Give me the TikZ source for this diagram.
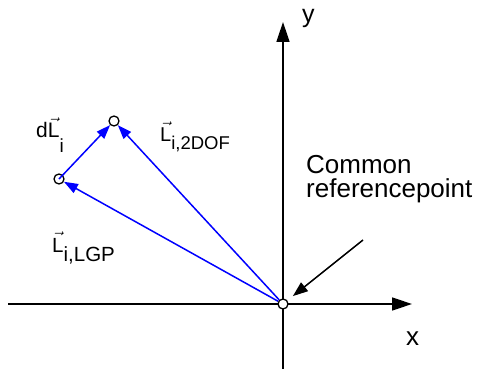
\documentclass[tikz,border=0pt]{standalone}
\usepackage{fontspec}
\setmainfont{Liberation Sans}
\usepackage{amsmath}
\usetikzlibrary{arrows.meta}
\newcommand{\vL}{$\vec{\text{L}}$}
\begin{document}
\begin{tikzpicture}[x=1pt,y=-1pt,
 axis/.style={line width=1.5pt, -{Triangle[length=20pt,width=13pt]}},
 vecarrow/.style={blue, line width=1.5pt, -{Triangle[length=14pt,width=10pt]}},
 annarrow/.style={line width=1.5pt, -{Triangle[length=15pt,width=11pt]}},
 ptc/.style={circle, draw=black, line width=1.3pt, inner sep=0pt, minimum size=10pt},
 lbl/.style={inner sep=0pt, anchor=base west}]
\useasboundingbox (0,0) rectangle (477,369);
\coordinate (xs) at (8,304);
\coordinate (xe) at (412,304);
\coordinate (ys) at (283,369);
\coordinate (ye) at (283,22);
\draw[axis] (xs) -- (xe);
\draw[axis] (ys) -- (ye);
\node[ptc, fill=white] (O) at (283,304) {};
\node[ptc] (A) at (59,179) {};
\node[ptc] (B) at (114,121) {};
\draw[vecarrow] (O) -- (A);
\draw[vecarrow] (A.center) -- (B);
\draw[vecarrow] (O) -- (B);
\coordinate (ann) at (363,240);
\draw[annarrow, shorten >=7pt] (ann) -- (O);
\node[lbl, font=\fontsize{25}{25}\selectfont] (ylab) at (302,23) {y};
\node[lbl, font=\fontsize{26}{26}\selectfont] (xlab) at (406,345) {x};
\node[lbl, font=\fontsize{26}{26}\selectfont] (c1) at (306,173) {Common};
\node[lbl, font=\fontsize{26}{26}\selectfont] (c2) at (306,197) {referencepoint};
\node[lbl, font=\fontsize{21}{21}\selectfont] (dL) at (36,138) {d\vL\raisebox{-15pt}{\fontsize{19}{19}\selectfont i}};
\node[lbl, font=\fontsize{20}{20}\selectfont] (L2) at (160,141.7) {\vL\raisebox{-7.5pt}{\fontsize{18.5}{19}\selectfont i,2DOF}};
\node[lbl, font=\fontsize{20.5}{20}\selectfont] (L1) at (52,252) {\vL\raisebox{-9.5pt}{\fontsize{20.5}{20}\selectfont i,LGP}};
\end{tikzpicture}
\end{document}
